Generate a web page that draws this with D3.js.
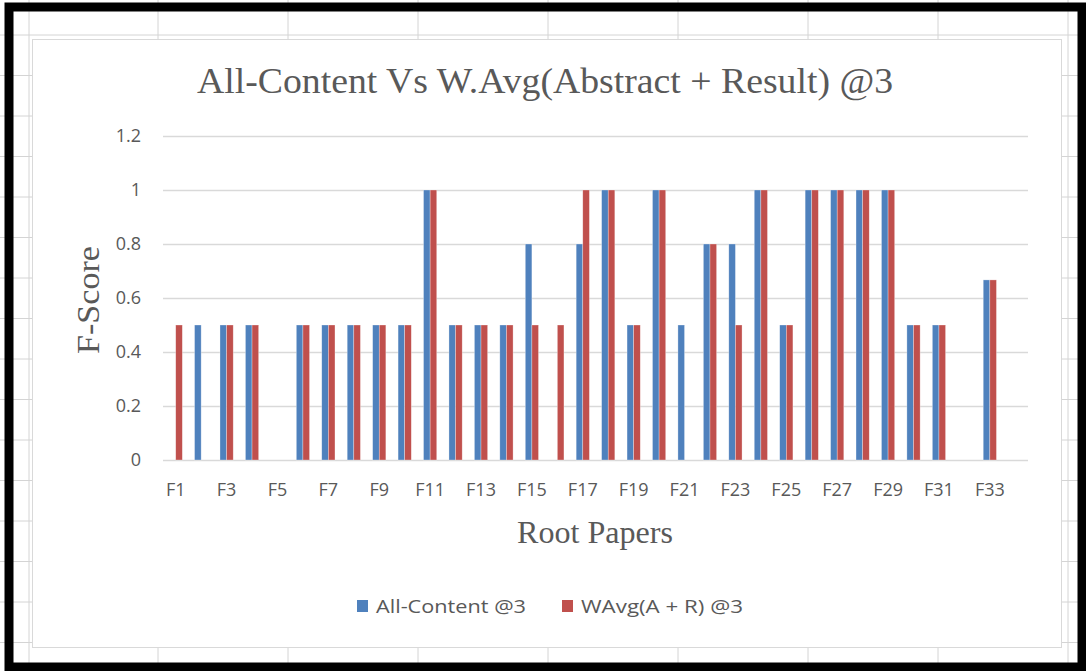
<!DOCTYPE html>
<html>
<head>
<meta charset="utf-8">
<script src="https://cdn.jsdelivr.net/npm/d3@7"></script>
<style>
  body { margin: 0; background: #fff; }
  svg { display: block; }
</style>
</head>
<body>
<div id="chart"></div>
<script>
// data
const categories = ['F1','F2','F3','F4','F5','F6','F7','F8','F9','F10','F11','F12','F13','F14','F15','F16','F17',
  'F18','F19','F20','F21','F22','F23','F24','F25','F26','F27','F28','F29','F30','F31','F32','F33','F34'];
const allContent = [0, 0.5, 0.5, 0.5, 0, 0.5, 0.5, 0.5, 0.5, 0.5, 1, 0.5, 0.5, 0.5, 0.8, 0, 0.8,
  1, 0.5, 1, 0.5, 0.8, 0.8, 1, 0.5, 1, 1, 1, 1, 0.5, 0.5, 0, 0.667, 0];
const wAvg = [0.5, 0, 0.5, 0.5, 0, 0.5, 0.5, 0.5, 0.5, 0.5, 1, 0.5, 0.5, 0.5, 0.5, 0.5, 1,
  1, 0.5, 1, 0, 0.8, 0.5, 1, 0.5, 1, 1, 1, 1, 0.5, 0.5, 0, 0.667, 0];
const seriesNames = ['All-Content @3', 'WAvg(A + R) @3'];
const yTicks = [0, 0.2, 0.4, 0.6, 0.8, 1, 1.2];
const xTickLabels = ['F1','F3','F5','F7','F9','F11','F13','F15','F17','F19','F21','F23','F25','F27','F29','F31','F33'];

const width = 1086, height = 671;
const colors = ['#4f81bd', '#c0504d'];
const sansFont = "'Open Sans', Lato, sans-serif";
const serifFont = "'Liberation Serif', 'Times New Roman', serif";

const svg = d3.select('#chart').append('svg')
  .attr('width', width)
  .attr('height', height);

// spreadsheet cells behind the chart
svg.append('rect').attr('width', width).attr('height', height).attr('fill', '#fff');
const cellX = [29].concat(d3.range(158, 1070, 130));
const cellY = d3.range(35, 660, 40.5);
svg.append('g').selectAll('line.v').data(cellX).enter().append('line')
  .attr('x1', d => d).attr('x2', d => d).attr('y1', 0).attr('y2', height)
  .attr('stroke', '#d4d4d4').attr('stroke-width', 1);
svg.append('g').selectAll('line.h').data(cellY).enter().append('line')
  .attr('x1', 0).attr('x2', width).attr('y1', d => d).attr('y2', d => d)
  .attr('stroke', '#d4d4d4').attr('stroke-width', 1);

// chart area
svg.append('rect')
  .attr('x', 32.5).attr('y', 39.5).attr('width', 1029).attr('height', 608)
  .attr('fill', '#fff').attr('stroke', '#d9d9d9').attr('stroke-width', 1);

// outer black frame
svg.append('rect')
  .attr('x', 9).attr('y', 7).attr('width', width - 13).attr('height', height - 11)
  .attr('fill', 'none').attr('stroke', '#000').attr('stroke-width', 9);

const plot = { left: 163, right: 1028, top: 136, bottom: 460 };

const x = d3.scaleBand()
  .domain(categories)
  .range([plot.left, plot.right])
  .paddingInner(0.48)
  .paddingOuter(0.24);

const xSub = d3.scaleBand()
  .domain([0, 1])
  .range([0, x.bandwidth()]);

const y = d3.scaleLinear()
  .domain([0, 1.2])
  .range([plot.bottom, plot.top]);

// gridlines
const yAxis = d3.axisLeft(y)
  .tickValues(yTicks)
  .tickSize(-(plot.right - plot.left))
  .tickPadding(22)
  .tickFormat(d3.format('~g'));

const gy = svg.append('g')
  .attr('transform', `translate(${plot.left},0)`)
  .call(yAxis);
gy.select('.domain').remove();
gy.selectAll('.tick line').attr('stroke', '#d9d9d9').attr('stroke-width', 1.5);
gy.selectAll('.tick text')
  .attr('fill', '#595959')
  .style('font-family', sansFont)
  .style('font-size', '18px');

// bars
const series = [allContent, wAvg];
series.forEach((vals, si) => {
  svg.append('g').selectAll('rect').data(vals).enter().append('rect')
    .attr('x', (_, i) => x(categories[i]) + xSub(si))
    .attr('y', d => y(d))
    .attr('width', xSub.bandwidth())
    .attr('height', d => y(0) - y(d))
    .attr('fill', colors[si])
    .attr('stroke', '#fff')
    .attr('stroke-opacity', 0.5)
    .attr('stroke-width', 0.6);
});

// x axis labels (every other category)
const xAxis = d3.axisBottom(x)
  .tickValues(xTickLabels)
  .tickSize(0)
  .tickPadding(23);
const gx = svg.append('g')
  .attr('transform', `translate(0,${plot.bottom})`)
  .call(xAxis);
gx.select('.domain').remove();
gx.selectAll('.tick text')
  .attr('fill', '#595959')
  .style('font-family', sansFont)
  .style('font-size', '18px');

// title and axis titles
svg.append('text')
  .attr('x', 545).attr('y', 93)
  .attr('text-anchor', 'middle')
  .attr('font-family', serifFont)
  .attr('font-size', 35)
  .attr('fill', '#595959')
  .attr('textLength', 696)
  .attr('lengthAdjust', 'spacingAndGlyphs')
  .text('All-Content Vs W.Avg(Abstract + Result) @3');

svg.append('text')
  .attr('transform', 'translate(99,300) rotate(-90)')
  .attr('text-anchor', 'middle')
  .attr('font-family', serifFont)
  .attr('font-size', 32)
  .attr('fill', '#595959')
  .attr('textLength', 108)
  .attr('lengthAdjust', 'spacingAndGlyphs')
  .text('F-Score');

svg.append('text')
  .attr('x', 595).attr('y', 543)
  .attr('text-anchor', 'middle')
  .attr('font-family', serifFont)
  .attr('font-size', 31)
  .attr('fill', '#595959')
  .attr('textLength', 156)
  .attr('lengthAdjust', 'spacingAndGlyphs')
  .text('Root Papers');

// legend
const legendX = [357, 562];
const legendW = [150, 162];
const legend = svg.append('g');
seriesNames.forEach((name, i) => {
  legend.append('rect')
    .attr('x', legendX[i]).attr('y', 600)
    .attr('width', 11).attr('height', 12)
    .attr('fill', colors[i]);
  legend.append('text')
    .attr('x', legendX[i] + 19).attr('y', 613)
    .attr('font-family', sansFont)
    .attr('font-size', 18)
    .attr('fill', '#595959')
    .attr('textLength', legendW[i])
    .attr('lengthAdjust', 'spacingAndGlyphs')
    .text(name);
});
</script>
</body>
</html>
